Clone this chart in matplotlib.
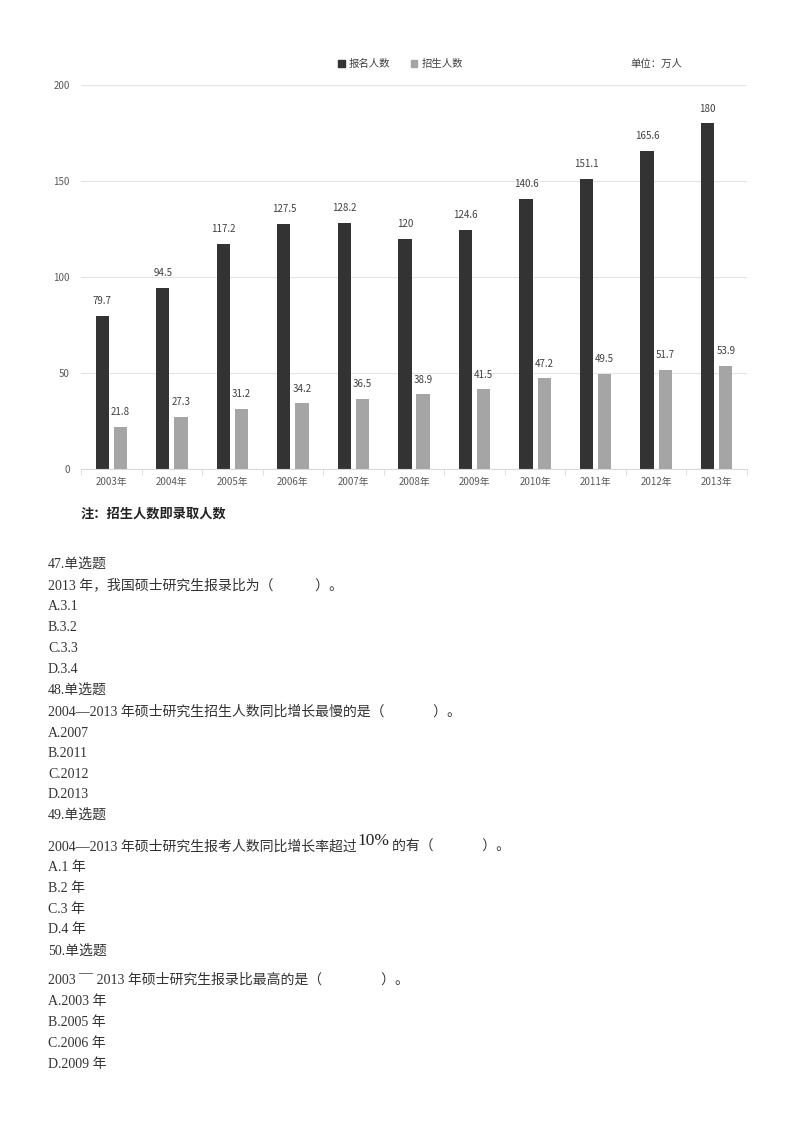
import matplotlib
matplotlib.use('Agg')
import matplotlib.pyplot as plt
from matplotlib.patches import Patch
import numpy as np

plt.rcParams['font.family'] = ['Noto Sans CJK SC', 'DejaVu Sans']

# Data (万人)
years = ['2003年', '2004年', '2005年', '2006年', '2007年', '2008年',
         '2009年', '2010年', '2011年', '2012年', '2013年']
applicants = [79.7, 94.5, 117.2, 127.5, 128.2, 120, 124.6, 140.6, 151.1, 165.6, 180]
admitted = [21.8, 27.3, 31.2, 34.2, 36.5, 38.9, 41.5, 47.2, 49.5, 51.7, 53.9]
labels_app = ['79.7', '94.5', '117.2', '127.5', '128.2', '120', '124.6', '140.6', '151.1', '165.6', '180']
labels_adm = ['21.8', '27.3', '31.2', '34.2', '36.5', '38.9', '41.5', '47.2', '49.5', '51.7', '53.9']
series_names = ['报名人数', '招生人数']
yticks = [0, 50, 100, 150, 200]

W, H = 800, 1132
dark = '#333333'
grey = '#a5a5a5'

fig = plt.figure(figsize=(W / 100, H / 100), dpi=100)
ax = fig.add_axes([81 / W, 1 - 469 / H, 666 / W, 384 / H])

x = np.arange(len(years))
bw = 0.22
b1 = ax.bar(x - 0.15, applicants, width=bw, color=dark)
b2 = ax.bar(x + 0.15, admitted, width=bw, color=grey)
ax.bar_label(b1, labels=labels_app, padding=7, fontsize=7, color='#404040')
ax.bar_label(b2, labels=labels_adm, padding=7, fontsize=7, color='#404040')

ax.set_xlim(-0.5, len(years) - 0.5)
ax.set_ylim(0, 200)
ax.set_yticks(yticks)
ax.set_yticklabels([str(v) for v in yticks], fontsize=7, color='#595959')
ax.set_xticks(x)
ax.set_xticklabels(years, fontsize=7, color='#595959')
ax.set_xticks(np.arange(-0.5, len(years)), minor=True)
ax.tick_params(axis='x', which='major', length=0, pad=6)
ax.tick_params(axis='x', which='minor', length=4, color='#d9d9d9', direction='out')
ax.tick_params(axis='y', length=0, pad=8)
ax.grid(axis='y', color='#e4e4e4', linewidth=0.8)
ax.set_axisbelow(True)
for s in ['top', 'right', 'left']:
    ax.spines[s].set_visible(False)
ax.spines['bottom'].set_color('#d9d9d9')

handles = [Patch(color=dark), Patch(color=grey)]
ax.legend(handles, series_names, loc='center', bbox_to_anchor=(0.48, 1.055),
          ncol=2, frameon=False, fontsize=7.5, handlelength=0.6, handleheight=0.6,
          handletextpad=0.4, columnspacing=2.0, labelcolor='#404040')
fig.text(630 / W, 1 - 64 / H, '单位：万人', fontsize=7.5, color='#404040', va='center')
fig.text(80 / W, 1 - 514 / H, '注：招生人数即录取人数', fontsize=9.5, color='#222222',
         va='center', fontweight='bold')

# Question text (positions are line centres; drawn on the baseline)
tc = '#333333'
fs = 10
qfont = ['Liberation Serif', 'Noto Sans CJK SC', 'DejaVu Sans']
base = 5
sp3 = '\u3000' * 3
lines = [
    ('47.单选题', 563),
    ('2013 年，我国硕士研究生报录比为（' + sp3 + '）。', 584),
    ('A.3.1', 605),
    ('B.3.2', 626),
    ('C.3.3', 647),
    ('D.3.4', 668),
    ('48.单选题', 689),
    ('2004—2013 年硕士研究生招生人数同比增长最慢的是（' + sp3 + '  ）。', 711),
    ('A.2007', 732),
    ('B.2011', 752),
    ('C.2012', 773),
    ('D.2013', 793),
    ('49.单选题', 814),
    ('A.1 年', 866),
    ('B.2 年', 887),
    ('C.3 年', 908),
    ('D.4 年', 928),
    ('50.单选题', 950),
    ('2003 ¯¯ 2013 年硕士研究生报录比最高的是（' + sp3 + '\u3000 ）。', 979),
    ('A.2003 年', 1000),
    ('B.2005 年', 1021),
    ('C.2006 年', 1042),
    ('D.2009 年', 1063),
]
for t, yp in lines:
    fig.text(48 / W, 1 - (yp + base) / H, t, fontsize=fs, color=tc,
             va='baseline', family=qfont)

# line 49 with raised, larger "10%"
r = fig.canvas.get_renderer()
t1 = fig.text(48 / W, 1 - (846 + base) / H, '2004—2013 年硕士研究生报考人数同比增长率超过',
              fontsize=fs, color=tc, va='baseline', family=qfont)
e1 = t1.get_window_extent(r)
t2 = fig.text(e1.x1 / W + 1 / W, 1 - (846 + base - 6) / H, '10%', fontsize=12.5,
              color='#222222', va='baseline', family='Liberation Serif')
e2 = t2.get_window_extent(r)
fig.text(e2.x1 / W + 2 / W, 1 - (846 + base) / H, '的有（' + sp3 + '  ）。',
         fontsize=fs, color=tc, va='baseline', family=qfont)

fig.savefig('out.png', dpi=100)
